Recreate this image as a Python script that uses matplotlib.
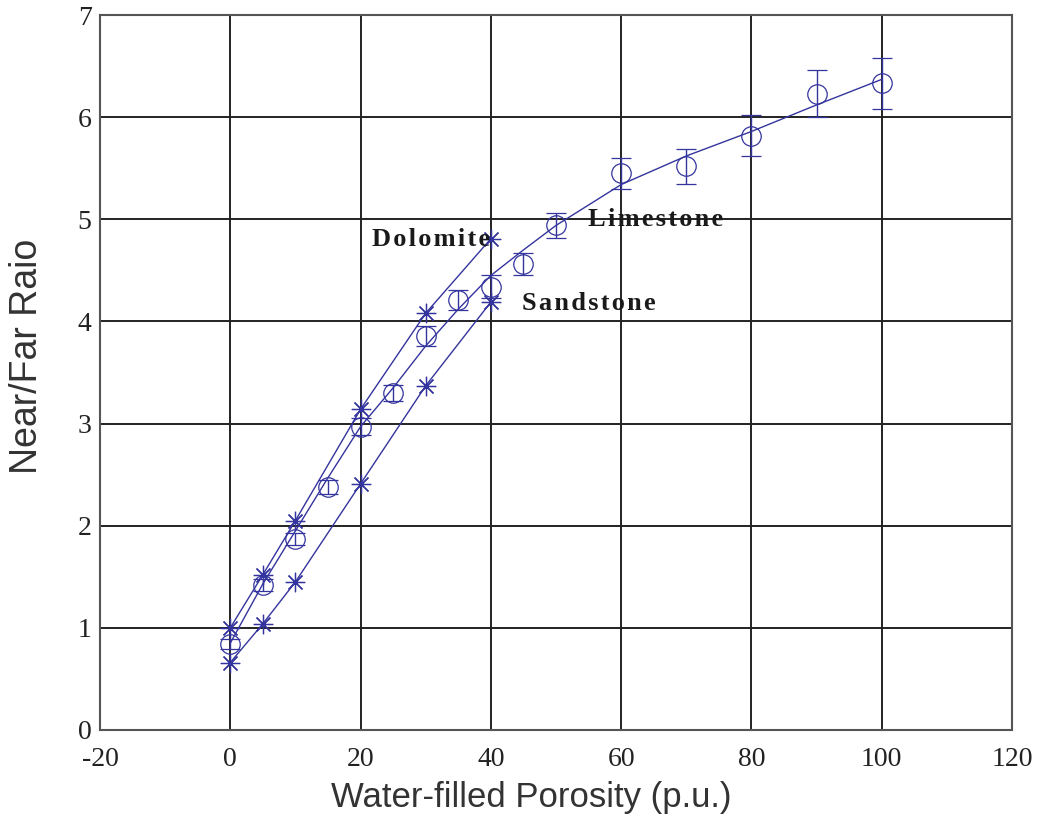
import numpy as np
import matplotlib.pyplot as plt
import matplotlib

# Dolomite (stars, upper curve)
dol_x = [0, 5, 10, 20, 30, 40]
dol_y = [1.00, 1.52, 2.05, 3.14, 4.08, 4.81]

# Sandstone (stars, lower curve)
san_x = [0, 5, 10, 20, 30, 40]
san_y = [0.66, 1.04, 1.45, 2.41, 3.37, 4.19]

# Limestone measurements with error bars
lim_x = [0, 5, 10, 15, 20, 25, 30, 35, 40, 45, 50, 60, 70, 80, 90, 100]
lim_y = [0.84, 1.42, 1.87, 2.38, 2.97, 3.30, 3.86, 4.21, 4.34, 4.56, 4.94,
         5.45, 5.52, 5.82, 6.23, 6.33]
lim_err = [0.05, 0.06, 0.06, 0.07, 0.08, 0.08, 0.10, 0.10, 0.11, 0.11, 0.12,
           0.15, 0.17, 0.20, 0.23, 0.25]

# Limestone fitted curve
fit_x = [0, 5, 10, 15, 20, 25, 30, 35, 40, 45, 50, 60, 70, 80, 90, 100]
fit_y = [0.85, 1.43, 1.95, 2.47, 2.97, 3.35, 3.76, 4.12, 4.45, 4.70, 4.94,
         5.34, 5.62, 5.86, 6.12, 6.37]

x_ticks = [-20, 0, 20, 40, 60, 80, 100, 120]
y_ticks = [0, 1, 2, 3, 4, 5, 6, 7]

if __name__ == '__main__':
    matplotlib.rcParams['axes.unicode_minus'] = False
    blue = '#34349e'

    fig = plt.figure(figsize=(10.38, 8.16), dpi=100)
    ax = fig.add_axes([0.0963, 0.1054, 0.8787, 0.8762])

    ax.grid(True, color='#222222', linewidth=1.4)
    ax.set_axisbelow(True)

    star = (8, 2, 0)
    ax.plot(dol_x, dol_y, color=blue, linewidth=1.0, marker=star,
            markersize=14, markeredgewidth=0.9)
    ax.plot(san_x, san_y, color=blue, linewidth=1.0, marker=star,
            markersize=14, markeredgewidth=0.9)
    ax.plot(fit_x, fit_y, color=blue, linewidth=1.0)
    ax.errorbar(lim_x, lim_y, yerr=lim_err, fmt='o', color=blue,
                markerfacecolor='none', markersize=14, markeredgewidth=0.9,
                elinewidth=1.0, capsize=7, capthick=1.0)

    # labels in the reference have loose letter spacing
    def spaced(s):
        return '\u200a'.join(s)

    tfont = dict(family='Liberation Serif', weight='bold', size=19, color='#1a1a1a')
    ax.text(21.7, 4.80, spaced('Dolomite'), va='center', ha='left', **tfont)
    ax.text(54.9, 5.00, spaced('Limestone'), va='center', ha='left', **tfont)
    ax.text(44.8, 4.18, spaced('Sandstone'), va='center', ha='left', **tfont)

    ax.set_xlim(-20, 120)
    ax.set_ylim(0, 7)
    ax.set_xticks(x_ticks)
    ax.set_yticks(y_ticks)
    for lab in ax.get_xticklabels() + ax.get_yticklabels():
        lab.set_fontfamily('Liberation Serif')
        lab.set_fontsize(20)
        lab.set_color('#222222')
    ax.tick_params(length=0)
    ax.tick_params(axis='x', pad=12)
    ax.tick_params(axis='y', pad=6)
    for s in ax.spines.values():
        s.set_color('#555555')
        s.set_linewidth(1.5)

    ax.set_xlabel('Water-filled Porosity (p.u.)', family='Liberation Sans',
                  size=25, color='#333333')
    ax.set_ylabel('Near/Far Raio', family='Liberation Sans',
                  size=27, color='#333333')
    ax.xaxis.set_label_coords(0.4726, -0.072)
    ax.yaxis.set_label_coords(-0.060, 0.522)

    plt.savefig('out.png', dpi=100)
